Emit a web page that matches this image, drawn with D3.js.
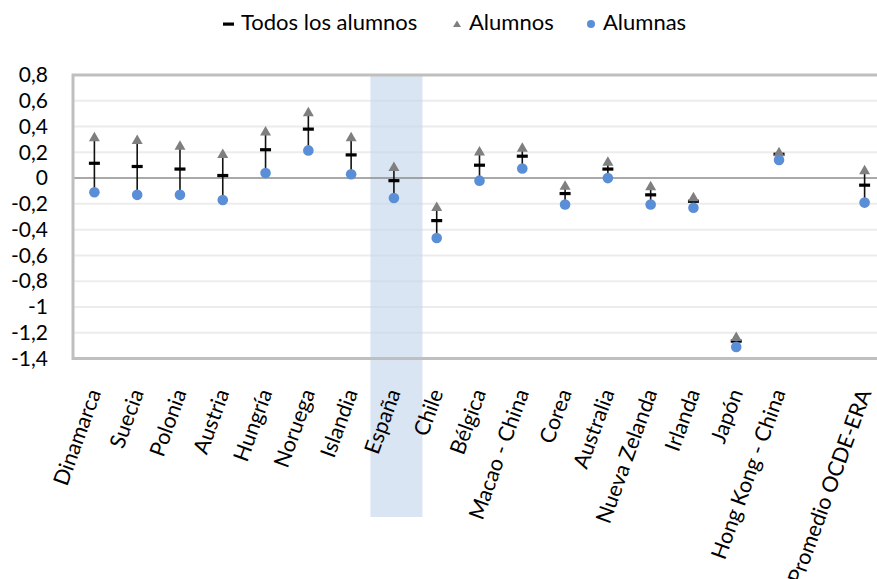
<!DOCTYPE html>
<html>
<head>
<meta charset="utf-8">
<script src="https://cdn.jsdelivr.net/npm/d3@7"></script>
<style>
  body { margin: 0; background: #fff; }
  svg { display: block; font-family: Lato, 'Open Sans', sans-serif; }
</style>
</head>
<body>
<script>
// Data
const categories = ['Dinamarca', 'Suecia', 'Polonia', 'Austria', 'Hungría', 'Noruega', 'Islandia',
  'España', 'Chile', 'Bélgica', 'Macao - China', 'Corea', 'Australia', 'Nueva Zelanda', 'Irlanda',
  'Japón', 'Hong Kong - China', '', 'Promedio OCDE-ERA'];
const todos   = [0.115, 0.09, 0.07, 0.02, 0.22, 0.38, 0.18, -0.02, -0.33, 0.10, 0.17, -0.12, 0.07, -0.13, -0.18, -1.265, 0.185, null, -0.055];
const alumnos = [0.32, 0.30, 0.255, 0.19, 0.365, 0.515, 0.32, 0.09, -0.22, 0.21, 0.24, -0.055, 0.13, -0.06, -0.145, -1.23, 0.205, null, 0.065];
const alumnas = [-0.11, -0.13, -0.13, -0.17, 0.04, 0.215, 0.03, -0.155, -0.465, -0.02, 0.075, -0.205, 0.00, -0.205, -0.23, -1.31, 0.14, null, -0.19];
const yTicks = [0.8, 0.6, 0.4, 0.2, 0, -0.2, -0.4, -0.6, -0.8, -1, -1.2, -1.4];
const highlight = 'España';

const width = 877;
const height = 579;
const plot = { left: 73, right: 886, top: 75, bottom: 358.5 };

const rows = categories.map((c, i) => ({
  cat: c, key: c || 'blank', todos: todos[i], alumnos: alumnos[i], alumnas: alumnas[i]
}));
const data = rows.filter(d => d.todos !== null);

const x = d3.scaleBand()
  .domain(rows.map(d => d.key))
  .range([plot.left, plot.right]);

const y = d3.scaleLinear()
  .domain([-1.4, 0.8])
  .range([plot.bottom, plot.top]);

const cx = d => x(d.key) + x.bandwidth() / 2;
const fmt = v => String(+v.toFixed(1)).replace('.', ',');

const svg = d3.select('body')
  .append('svg')
  .attr('width', width)
  .attr('height', height);

// Gridlines
svg.append('g')
  .selectAll('line')
  .data(yTicks.filter(t => t !== 0 && t !== 0.8 && t !== -1.4))
  .enter()
  .append('line')
  .attr('x1', plot.left)
  .attr('x2', plot.right)
  .attr('y1', d => y(d))
  .attr('y2', d => y(d))
  .attr('stroke', '#ececec')
  .attr('stroke-width', 2);

// Highlighted band for España
const hx = x(highlight) + x.bandwidth() / 2;
svg.append('rect')
  .attr('x', hx - 23.5)
  .attr('y', plot.top)
  .attr('width', 52)
  .attr('height', 517 - plot.top)
  .attr('fill', '#c6d7ec')
  .attr('opacity', 0.65);

// Zero line
svg.append('line')
  .attr('x1', plot.left)
  .attr('x2', plot.right)
  .attr('y1', y(0))
  .attr('y2', y(0))
  .attr('stroke', '#8c8c8c')
  .attr('stroke-width', 1.5);

// Plot border
svg.append('path')
  .attr('d', `M${plot.right},${plot.top}H${plot.left}V${plot.bottom}H${plot.right}`)
  .attr('fill', 'none')
  .attr('stroke', '#bfbfbf')
  .attr('stroke-width', 3);

// High-low lines
svg.append('g')
  .selectAll('line')
  .data(data)
  .enter()
  .append('line')
  .attr('x1', cx)
  .attr('x2', cx)
  .attr('y1', d => y(Math.max(d.todos, d.alumnos, d.alumnas)))
  .attr('y2', d => y(Math.min(d.todos, d.alumnos, d.alumnas)))
  .attr('stroke', '#111')
  .attr('stroke-width', 1.6);

// Todos los alumnos: dash
svg.append('g')
  .selectAll('rect')
  .data(data)
  .enter()
  .append('rect')
  .attr('x', d => cx(d) - 5.5)
  .attr('y', d => y(d.todos) - 1.6)
  .attr('width', 11)
  .attr('height', 3.2)
  .attr('fill', '#000');

// Alumnos: triangles
svg.append('g')
  .selectAll('path')
  .data(data)
  .enter()
  .append('path')
  .attr('transform', d => `translate(${cx(d)},${y(d.alumnos)})`)
  .attr('d', 'M0,-5L5.5,4.5L-5.5,4.5Z')
  .attr('fill', '#7f7f7f');

// Alumnas: circles
svg.append('g')
  .selectAll('circle')
  .data(data)
  .enter()
  .append('circle')
  .attr('cx', cx)
  .attr('cy', d => y(d.alumnas))
  .attr('r', 5.3)
  .attr('fill', '#5a8fd8');

// Y axis
const yAxis = svg.append('g')
  .attr('transform', `translate(${plot.left}, 0)`)
  .call(d3.axisLeft(y).tickValues(yTicks).tickSize(0).tickPadding(25).tickFormat(fmt));
yAxis.select('.domain').remove();
yAxis.selectAll('text')
  .attr('fill', '#000')
  .style('font-size', '21px')
  .style('font-family', "Lato, 'Open Sans', sans-serif");

// X axis
const xAxis = svg.append('g')
  .attr('transform', `translate(0, ${plot.bottom})`)
  .call(d3.axisBottom(x).tickSize(0).tickFormat(k => k === 'blank' ? '' : k));
xAxis.select('.domain').remove();
xAxis.selectAll('text')
  .attr('x', 0)
  .attr('y', 0)
  .attr('dy', null)
  .attr('text-anchor', 'end')
  .attr('transform', 'translate(7, 34) rotate(-70)')
  .attr('fill', '#000')
  .style('font-size', '21.5px')
  .style('font-family', "Lato, 'Open Sans', sans-serif");

// Legend
const leg = svg.append('g')
  .style('font-size', '22px');

leg.append('rect')
  .attr('x', 223)
  .attr('y', 22.5)
  .attr('width', 11)
  .attr('height', 3.2)
  .attr('fill', '#000');
leg.append('text')
  .attr('x', 241)
  .attr('y', 30)
  .text('Todos los alumnos');

leg.append('path')
  .attr('transform', 'translate(457, 24)')
  .attr('d', 'M0,-3.5L4,3L-4,3Z')
  .attr('fill', '#7f7f7f');
leg.append('text')
  .attr('x', 469)
  .attr('y', 30)
  .text('Alumnos');

leg.append('circle')
  .attr('cx', 591)
  .attr('cy', 24)
  .attr('r', 4)
  .attr('fill', '#5a8fd8');
leg.append('text')
  .attr('x', 603)
  .attr('y', 30)
  .text('Alumnas');
</script>
</body>
</html>
